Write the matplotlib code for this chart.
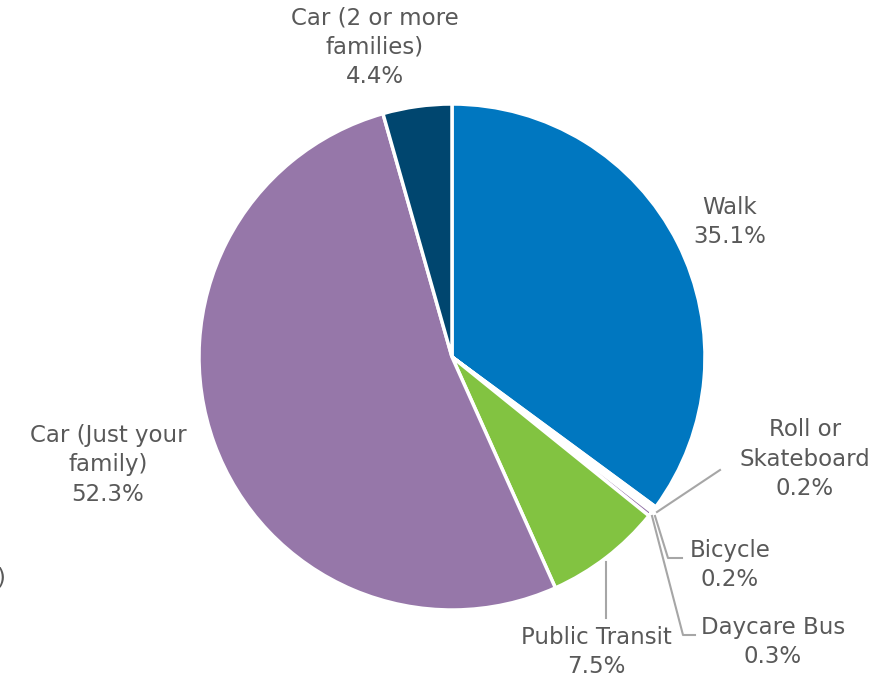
import matplotlib
matplotlib.use("Agg")
import matplotlib.pyplot as plt

# share of trips by mode, clockwise from the top
modes = ["Walk", "Roll or\nSkateboard", "Bicycle", "Daycare Bus", "Public Transit",
         "Car (Just your\nfamily)", "Car (2 or more\nfamilies)"]
shares = [35.1, 0.2, 0.2, 0.3, 7.5, 52.3, 4.4]
colors = ["#0077c0", "#0077c0", "#82c341", "#9677a9", "#82c341", "#9677a9", "#00466f"]

W, H = 876, 678
fig = plt.figure(figsize=(W / 100, H / 100), dpi=100)
ax = fig.add_axes([0, 0, 1, 1])

cx, cy, r = 452, H - 357, 253
ax.pie(shares, colors=colors, startangle=90, counterclock=False,
       center=(cx, cy), radius=r, frame=True,
       wedgeprops=dict(edgecolor="white", linewidth=2.5))
ax.set_xlim(0, W)
ax.set_ylim(0, H)
ax.set_aspect("equal")
ax.axis("off")

txt = "#595959"
fnt = "DejaVu Sans"
# label anchor positions in pixels (x, y from top)
label_pos = [(730, 222), (805, 459), (730, 565), (773, 642), (596, 652),
             (108, 465), (375, 47)]
for name, val, (x, y) in zip(modes, shares, label_pos):
    ax.text(x, H - y, f"{name}\n{val}%", ha="center", va="center",
            fontsize=16.5, color=txt, family=fnt, linespacing=1.35)

# leader lines
lc = "#a6a6a6"
leaders = [
    [(657, 512), (720, 470)],
    [(655, 516), (668, 558), (682, 558)],
    [(652, 516), (683, 635), (695, 635)],
    [(606, 562), (606, 618)],
]
for pts in leaders:
    ax.plot([p[0] for p in pts], [H - p[1] for p in pts], color=lc, lw=1.5)

fig.text(-0.004, 1 - 578 / H, ")", ha="left", va="center", fontsize=16.5,
         color=txt, family=fnt)

fig.savefig("out.png", dpi=100)
